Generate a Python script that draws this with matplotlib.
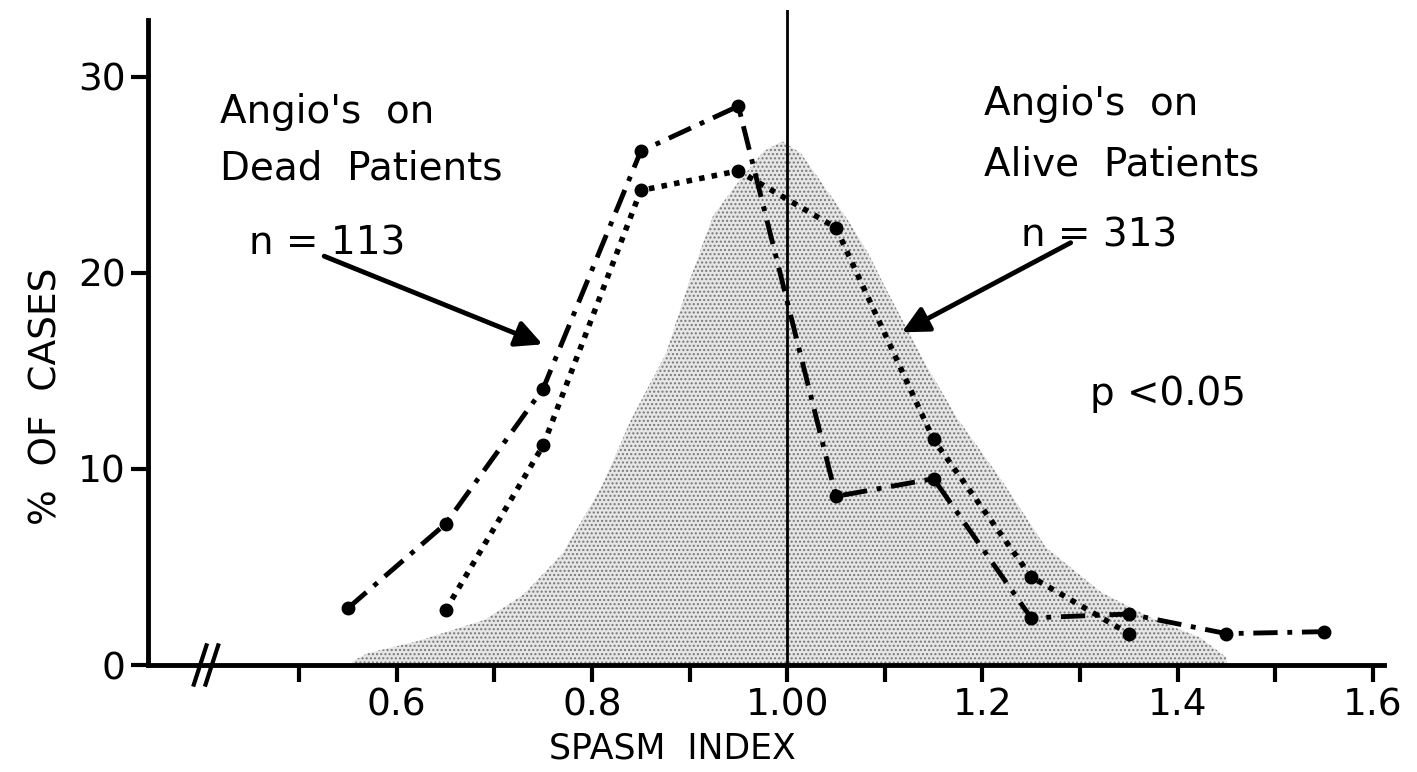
import matplotlib.pyplot as plt
import numpy as np

plt.rcParams['font.family'] = ['DejaVu Sans']
plt.rcParams['hatch.linewidth'] = 1.0

# spasm index bins and % of cases
dead_x = [0.55, 0.65, 0.75, 0.85, 0.95, 1.05, 1.15, 1.25, 1.35, 1.45, 1.55]
dead_y = [2.9, 7.2, 14.1, 26.2, 28.5, 8.6, 9.5, 2.4, 2.6, 1.6, 1.7]

alive_x = [0.65, 0.75, 0.85, 0.95, 1.05, 1.15, 1.25, 1.35]
alive_y = [2.8, 11.2, 24.2, 25.2, 22.3, 11.5, 4.5, 1.6]

# shaded reference distribution
ref_x = [0.555, 0.57, 0.62, 0.69, 0.73, 0.77, 0.81, 0.84, 0.876, 0.90,
         0.924, 0.948, 0.976, 0.995, 1.014, 1.038, 1.062, 1.083, 1.10,
         1.14, 1.174, 1.22, 1.265, 1.322, 1.373, 1.423, 1.45]
ref_y = [0.2, 0.6, 1.2, 2.3, 3.6, 5.7, 9.1, 12.5, 15.9, 19.6,
         22.9, 24.5, 26.2, 26.7, 26.1, 24.4, 22.7, 21.0, 19.3,
         15.5, 12.6, 9.4, 6.0, 3.7, 2.4, 1.4, 0.4]

xticks = [0.5, 0.6, 0.7, 0.8, 0.9, 1.0, 1.1, 1.2, 1.3, 1.4, 1.5, 1.6]
xticklabels = ['', '0.6', '', '0.8', '', '1.00', '', '1.2', '', '1.4', '', '1.6']
yticks = [0, 10, 20, 30]

fig = plt.figure(figsize=(14.17, 7.72), dpi=100)
ax = fig.add_axes([0.1044, 0.1386, 0.8726, 0.8484])

ax.fill_between(ref_x, ref_y, 0, facecolor='#e6e6e6', hatch='....',
                edgecolor='#777777', linewidth=0, zorder=1)

ax.axvline(1.0, color='k', lw=2, zorder=2)

ax.plot(dead_x, dead_y, color='k', lw=3.5, dashes=(5, 2, 1, 2),
        marker='o', ms=9, zorder=4)
ax.plot(alive_x, alive_y, color='k', lw=4, dashes=(1, 1.3),
        marker='o', ms=9, zorder=4)

ax.set_xlim(0.345, 1.612)
ax.set_ylim(0, 33.4)

for s in ['top', 'right']:
    ax.spines[s].set_visible(False)
for s in ['left', 'bottom']:
    ax.spines[s].set_linewidth(3.5)
ax.spines['left'].set_bounds(0, 32.9)

ax.set_xticks(xticks)
ax.set_xticklabels(xticklabels)
ax.set_yticks(yticks)
ax.tick_params(axis='both', length=12, width=3, labelsize=27, pad=4)

ax.set_xlabel('SPASM  INDEX', fontsize=25, va='center')
ax.xaxis.set_label_coords(0.424, -0.127)
ax.set_ylabel('%  OF  CASES', fontsize=27, va='center')
ax.yaxis.set_label_coords(-0.082, 0.41)

# axis break marks
for dx in [0.0, 0.012]:
    ax.plot([0.392 + dx, 0.405 + dx], [-1.0, 1.0], color='k', lw=3,
            clip_on=False, zorder=5)

ax.text(0.419, 28.2, "Angio's  on", fontsize=28, va='center')
ax.text(0.419, 25.3, "Dead  Patients", fontsize=28, va='center')
ax.text(0.449, 21.5, "n = 113", fontsize=28, va='center')

ax.text(1.202, 28.6, "Angio's  on", fontsize=28, va='center')
ax.text(1.202, 25.5, "Alive  Patients", fontsize=28, va='center')
ax.text(1.240, 21.9, "n = 313", fontsize=28, va='center')

ax.text(1.310, 13.8, "p <0.05", fontsize=28, va='center')

ax.annotate('', xy=(0.752, 16.3), xytext=(0.523, 20.9),
            arrowprops=dict(arrowstyle='-|>', lw=3.5, color='k',
                            mutation_scale=40))
ax.annotate('', xy=(1.115, 16.9), xytext=(1.293, 21.6),
            arrowprops=dict(arrowstyle='-|>', lw=3.5, color='k',
                            mutation_scale=40))

fig.savefig('out.png', dpi=100)
